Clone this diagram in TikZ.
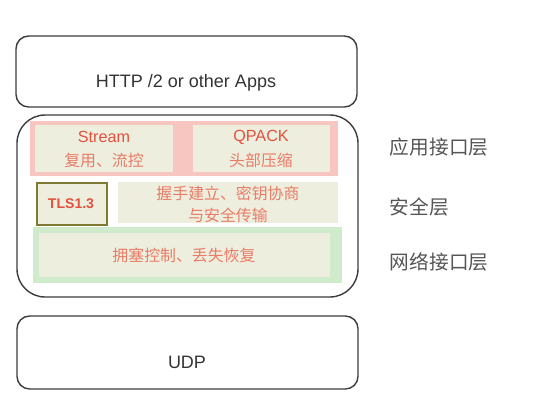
\documentclass[tikz,border=0pt]{standalone}
\usepackage{fontspec}
\setmainfont{Liberation Sans}
\newfontfamily\cjk{Noto Sans CJK SC}
\definecolor{FRAME}{HTML}{3C3C3C}
\definecolor{PINK}{HTML}{F8C6C0}
\definecolor{CELL}{HTML}{EEEEDF}
\definecolor{GREENBAR}{HTML}{CFEBCC}
\definecolor{REDTXT}{HTML}{E2513D}
\definecolor{SALMON}{HTML}{E87C66}
\definecolor{OLIVE}{HTML}{7E7A33}
\definecolor{LABEL}{HTML}{555555}
\tikzset{
	every node/.style = {font=\normalsize},
	layer/.style = {draw=FRAME, line width=1pt, rounded corners=9},
	title/.style = {font=\fontsize{12.8}{15}\selectfont, text=black!80},
	head/.style = {font=\fontsize{11.5}{13}\selectfont, text=REDTXT},
	sub/.style = {font=\cjk\fontsize{11.3}{15.5}\selectfont, text=SALMON, align=center},
	side/.style = {font=\cjk\fontsize{14}{16}\selectfont, text=LABEL, anchor=west}
}
\begin{document}
\begin{tikzpicture}[x=0.025cm, y=-0.025cm]
		\useasboundingbox (0,0) rectangle (558,404);
		
		% apps
		\draw[layer] (16,36) rectangle (357,107);
		\node[title] (apps) at (186,83) {HTTP /2 or other Apps};
		
		% quic
		\draw[layer, rounded corners=20] (17,115) rectangle (358,297);
		
		% application layer
		\fill[PINK] (30,121) rectangle (338,176);
		\fill[CELL] (35,125) rectangle (173,172);
		\fill[CELL] (193,125) rectangle (330,172);
		\node[head] (stream) at (104,137) {Stream};
		\node[sub] (mux) at (104,160) {复用、流控};
		\node[head] (qpack) at (261,137) {QPACK};
		\node[sub] (hpack) at (261,160) {头部压缩};
		
		% security layer
		\draw[OLIVE, fill=CELL, line width=1pt] (37,183) rectangle (107,225);
		\node[head, font=\bfseries\fontsize{10}{12}\selectfont] (tls) at (71,204) {TLS1.3};
		\fill[CELL] (118,182) rectangle (338,223);
		\node[sub] (hs) at (228,204) {握手建立、密钥协商\\与安全传输};
		
		% network layer
		\fill[GREENBAR] (33,227) rectangle (342,283);
		\fill[CELL] (39,233) rectangle (330,277);
		\node[sub] (cc) at (184,255) {拥塞控制、丢失恢复};
		
		% udp
		\draw[layer] (17,316) rectangle (358,389);
		\node[title] (udp) at (187,362) {UDP};
		
		% layer names
		\node[side] (app) at (385,147) {应用接口层};
		\node[side] (sec) at (385,207) {安全层};
		\node[side] (net) at (385,262) {网络接口层};
	\end{tikzpicture}
\end{document}
